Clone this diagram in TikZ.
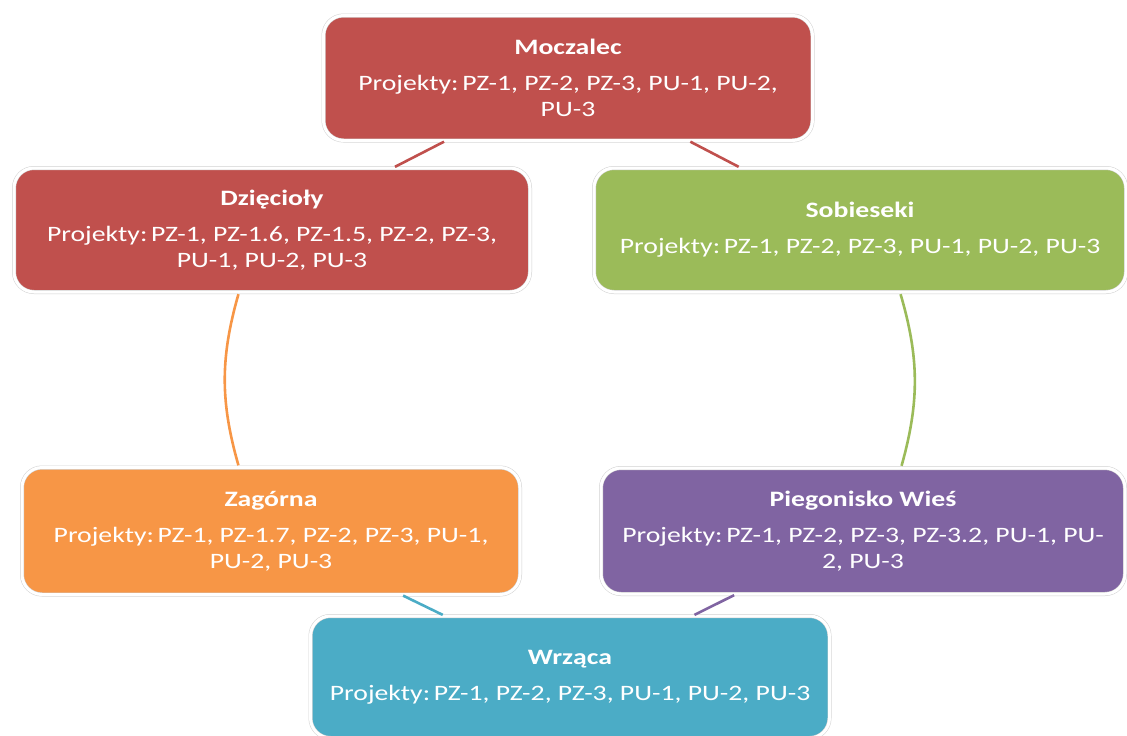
\documentclass[tikz,border=0pt]{standalone}
\usepackage{fontspec}
\setmainfont{Carlito}[FakeStretch=1.26]
\usetikzlibrary{positioning}

\definecolor{mocred}{HTML}{C0504D}
\definecolor{sobgreen}{HTML}{9BBB59}
\definecolor{zagorange}{HTML}{F79646}
\definecolor{piegviolet}{HTML}{8064A2}
\definecolor{wrzblue}{HTML}{4BACC6}

\begin{document}
\begin{tikzpicture}[
      x=1pt, y=-1pt,
      vbox/.style = {rectangle, rounded corners=20pt, draw=black!18, double=white,
                     double distance=3pt, line width=0.5pt, text=white, align=center,
                     font=\fontsize{22pt}{26pt}\selectfont, inner sep=0pt},
      link/.style = {line width=2.6pt, shorten <=2pt, shorten >=2pt}
                    ]
\useasboundingbox (0,0) rectangle (1127,736);
\node (moczalec)   [vbox, fill=mocred, minimum width=489pt, minimum height=125pt] at (568,78)
      {\textbf{Moczalec}\\[10pt] Projekty:\,PZ-1, PZ-2, PZ-3, PU-1, PU-2,\\ PU-3};
\node (dziecioly)  [vbox, fill=mocred, minimum width=516pt, minimum height=124pt] at (272,230)
      {\textbf{Dzięcioły}\\[10pt] Projekty:\,PZ-1, PZ-1.6, PZ-1.5, PZ-2, PZ-3,\\ PU-1, PU-2, PU-3};
\node (sobieseki)  [vbox, fill=sobgreen, minimum width=532pt, minimum height=124pt] at (860,230)
      {\textbf{Sobieseki}\\[10pt] Projekty:\,PZ-1, PZ-2, PZ-3, PU-1, PU-2, PU-3};
\node (zagorna)    [vbox, fill=zagorange, minimum width=498pt, minimum height=127pt] at (271,531)
      {\textbf{Zagórna}\\[10pt] Projekty:\,PZ-1, PZ-1.7, PZ-2, PZ-3, PU-1,\\ PU-2, PU-3};
\node (piegonisko) [vbox, fill=piegviolet, minimum width=524pt, minimum height=126pt] at (863,531)
      {\textbf{Piegonisko Wieś}\\[10pt] Projekty:\,PZ-1, PZ-2, PZ-3, PZ-3.2, PU-1, PU-\\ 2, PU-3};
\node (wrzaca)     [vbox, fill=wrzblue, minimum width=519pt, minimum height=122pt] at (570,677)
      {\textbf{Wrząca}\\[10pt] Projekty:\,PZ-1, PZ-2, PZ-3, PU-1, PU-2, PU-3};

\draw[link, mocred] (moczalec) -- (sobieseki);
\draw[link, sobgreen] ([xshift=40pt]sobieseki.south) to[bend left=16] ([xshift=38pt]piegonisko.north);
\draw[link, piegviolet] (piegonisko) -- (wrzaca);
\draw[link, wrzblue] (wrzaca) -- (zagorna);
\draw[link, zagorange] ([xshift=-32pt]zagorna.north) to[bend left=16] ([xshift=-33pt]dziecioly.south);
\draw[link, mocred] (dziecioly) -- (moczalec);
\end{tikzpicture}
\end{document}
